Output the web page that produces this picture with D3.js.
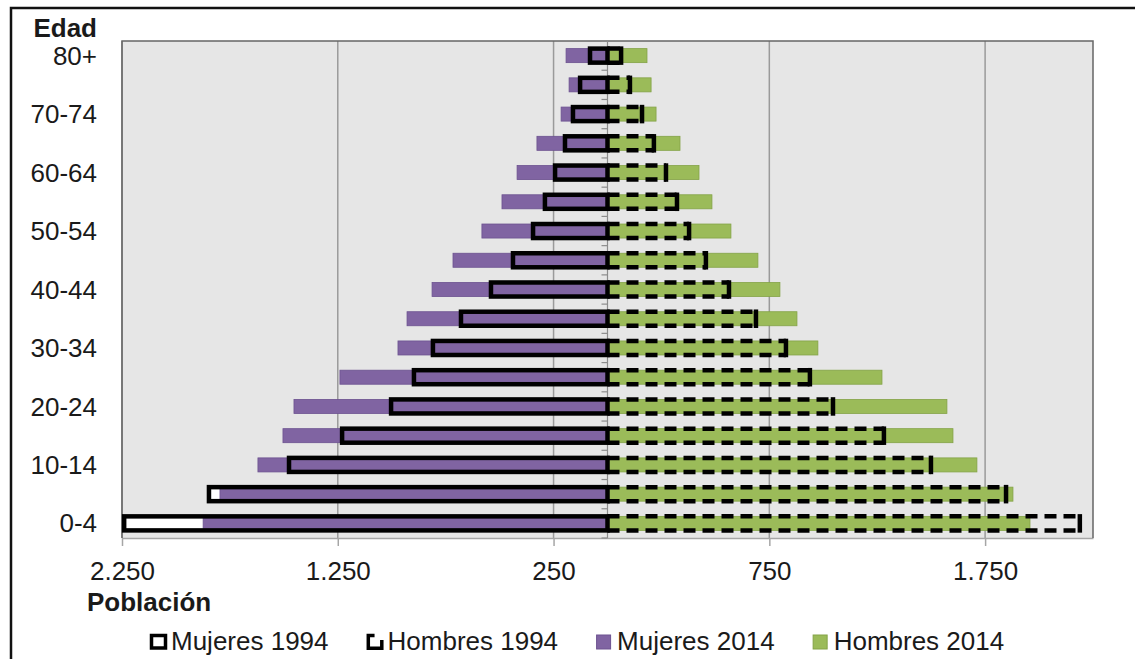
<!DOCTYPE html>
<meta charset="utf-8">

<style>
  body {
    margin: 0px;
    background: #fff;
  }

  text {
    font-family: "Liberation Sans", Arial, sans-serif;
    font-size: 26px;
    fill: #1a1a1a;
  }

  .bold {
    font-weight: bold;
  }
</style>

<script src="https://d3js.org/d3.v7.min.js"></script>

<body>
  <svg id="chart" width="1135" height="659"></svg>
</body>

<script>
// age groups, bottom to top
const ages = ['0-4', '5-9', '10-14', '15-19', '20-24', '25-29', '30-34', '35-39', '40-44',
  '45-49', '50-54', '55-59', '60-64', '65-69', '70-74', '75-79', '80+'];

const mujeres1994 = [2240, 1847, 1476, 1230, 1003, 897, 809, 679, 540, 438, 345, 290, 243, 197, 160, 127, 81];
const hombres1994 = [2189, 1847, 1499, 1281, 1045, 938, 827, 688, 563, 456, 378, 322, 271, 215, 160, 104, 63];
const mujeres2014 = [1874, 1796, 1620, 1504, 1453, 1240, 971, 929, 813, 716, 582, 489, 419, 327, 215, 178, 192];
const hombres2014 = [1958, 1879, 1712, 1601, 1573, 1272, 975, 878, 799, 697, 572, 484, 424, 336, 225, 202, 183];

const xTicks = [-2250, -1250, -250, 750, 1750];
const legendItems = ['Mujeres 1994', 'Hombres 1994', 'Mujeres 2014', 'Hombres 2014'];

const purple = '#8064a2';
const green = '#9bbb59';

const plot = {left: 122, right: 1093, top: 41, bottom: 538};

const rows = ages.map(function(a, i) {
  return {age: a, m94: mujeres1994[i], h94: hombres1994[i], m14: mujeres2014[i], h14: hombres2014[i], i: i};
});

const svg = d3.select('#chart');

const x = d3.scaleLinear()
    .domain([-2250, 2250])
    .range([plot.left, plot.right]);

const y = d3.scaleBand()
    .domain(ages.slice().reverse())
    .range([plot.top, plot.bottom])
    .paddingInner(0.52)
    .paddingOuter(0.26);

const es = d3.formatLocale({decimal: ',', thousands: '.', grouping: [3], currency: ['', '€']});
const fmt = es.format(',');

// outer frame
svg.append('path')
    .attr('d', 'M11,659V8H1135')
    .attr('fill', 'none')
    .attr('stroke', '#111')
    .attr('stroke-width', 2.5);

// plot background
svg.append('rect')
    .attr('x', plot.left)
    .attr('y', plot.top)
    .attr('width', plot.right - plot.left)
    .attr('height', plot.bottom - plot.top)
    .attr('fill', '#e6e6e6');

// gridlines
svg.append('g')
  .selectAll('line')
    .data(xTicks)
  .enter().append('line')
    .attr('x1', function(d) { return x(d); })
    .attr('x2', function(d) { return x(d); })
    .attr('y1', plot.top)
    .attr('y2', plot.bottom)
    .attr('stroke', '#9a9a9a')
    .attr('stroke-width', 1.5);

// bottom axis
const xAxis = svg.append('g')
    .attr('transform', `translate(0,${plot.bottom})`)
    .call(d3.axisBottom(x)
      .tickValues(xTicks)
      .tickFormat(function(d) { return fmt(Math.abs(d)); })
      .tickSize(8)
      .tickSizeOuter(0)
      .tickPadding(16));

xAxis.select('.domain').attr('stroke', '#a6a6a6').attr('stroke-width', 1.5);
xAxis.selectAll('.tick line').attr('stroke', '#a6a6a6').attr('stroke-width', 1.5);
xAxis.selectAll('.tick text')
    .attr('fill', '#1a1a1a')
    .style('font-size', '26px');
xAxis.attr('font-size', null).attr('font-family', null);

// plot border (top, left, right)
svg.append('path')
    .attr('d', `M${plot.left},${plot.bottom}V${plot.top}H${plot.right}V${plot.bottom}`)
    .attr('fill', 'none')
    .attr('stroke', '#666')
    .attr('stroke-width', 1.5);

const x0 = x(0);

// white fill under the 1994 women bars
svg.append('g')
  .selectAll('rect')
    .data(rows)
  .enter().append('rect')
    .attr('x', function(d) { return x(-d.m94); })
    .attr('y', function(d) { return y(d.age); })
    .attr('width', function(d) { return x0 - x(-d.m94); })
    .attr('height', y.bandwidth())
    .attr('fill', '#fff');

// 2014 bars
svg.append('g')
  .selectAll('rect')
    .data(rows)
  .enter().append('rect')
    .attr('x', function(d) { return x(-d.m14); })
    .attr('y', function(d) { return y(d.age); })
    .attr('width', function(d) { return x0 - x(-d.m14); })
    .attr('height', y.bandwidth())
    .attr('fill', purple)
    .attr('stroke', '#6c5290')
    .attr('stroke-width', 0.8);

svg.append('g')
  .selectAll('rect')
    .data(rows)
  .enter().append('rect')
    .attr('x', x0)
    .attr('y', function(d) { return y(d.age); })
    .attr('width', function(d) { return x(d.h14) - x0; })
    .attr('height', y.bandwidth())
    .attr('fill', green)
    .attr('stroke', '#84a347')
    .attr('stroke-width', 0.8);

// category axis at zero
svg.append('line')
    .attr('x1', x0)
    .attr('x2', x0)
    .attr('y1', plot.top)
    .attr('y2', plot.bottom)
    .attr('stroke', '#8c8c8c')
    .attr('stroke-width', 1.2);

svg.append('g')
  .selectAll('line')
    .data(d3.range(ages.length + 1))
  .enter().append('line')
    .attr('x1', x0 - 6)
    .attr('x2', x0)
    .attr('y1', function(i) { return plot.top + i * y.step(); })
    .attr('y2', function(i) { return plot.top + i * y.step(); })
    .attr('stroke', '#8c8c8c')
    .attr('stroke-width', 1.2);

// 1994 women: solid outline
svg.append('g')
  .selectAll('rect')
    .data(rows)
  .enter().append('rect')
    .attr('x', function(d) { return x(-d.m94); })
    .attr('y', function(d) { return y(d.age); })
    .attr('width', function(d) { return x0 - x(-d.m94); })
    .attr('height', y.bandwidth())
    .attr('fill', 'none')
    .attr('stroke', '#000')
    .attr('stroke-width', 4.5);

// 1994 men: dashed outline with a solid end
const men94 = svg.append('g');

men94.selectAll('path')
    .data(rows)
  .enter().append('path')
    .attr('d', function(d) {
      const top = y(d.age), bot = y(d.age) + y.bandwidth();
      return `M${x0},${top}H${x(d.h94)}M${x0},${bot}H${x(d.h94)}`;
    })
    .attr('fill', 'none')
    .attr('stroke', '#000')
    .attr('stroke-width', 4.5)
    .attr('stroke-dasharray', '12,7');

men94.selectAll('line')
    .data(rows)
  .enter().append('line')
    .attr('x1', function(d) { return x(d.h94); })
    .attr('x2', function(d) { return x(d.h94); })
    .attr('y1', function(d) { return y(d.age) - 2.25; })
    .attr('y2', function(d) { return y(d.age) + y.bandwidth() + 2.25; })
    .attr('stroke', '#000')
    .attr('stroke-width', 4.5);

// age labels, every other group
svg.append('g')
  .selectAll('text')
    .data(rows.filter(function(d) { return d.i % 2 === 0; }))
  .enter().append('text')
    .attr('x', 97)
    .attr('y', function(d) { return y(d.age) + y.bandwidth() / 2; })
    .attr('dy', '0.35em')
    .attr('text-anchor', 'end')
    .text(function(d) { return d.age; });

svg.append('text')
    .attr('class', 'bold')
    .attr('x', 97)
    .attr('y', 37)
    .attr('text-anchor', 'end')
    .text('Edad');

svg.append('text')
    .attr('class', 'bold')
    .attr('x', 87)
    .attr('y', 611)
    .text('Población');

// legend
const legend = svg.append('g').attr('transform', 'translate(150,650)');
let lx = 0;
legendItems.forEach(function(name, i) {
  const g = legend.append('g').attr('transform', `translate(${lx},0)`);
  if (i === 0) {
    g.append('rect')
        .attr('x', 1.5).attr('y', -14.5).attr('width', 14).attr('height', 12.5)
        .attr('fill', '#fff').attr('stroke', '#000').attr('stroke-width', 3.5);
  } else if (i === 1) {
    g.append('path')
        .attr('d', 'M8,-14.5H1.75V-1.75H15.25V-10')
        .attr('fill', 'none').attr('stroke', '#000').attr('stroke-width', 3.5);
  } else {
    g.append('rect')
        .attr('x', 0.5).attr('y', -15).attr('width', 14).attr('height', 14)
        .attr('fill', i === 2 ? purple : green)
        .attr('stroke', i === 2 ? '#6c5290' : '#84a347').attr('stroke-width', 1);
  }
  const t = g.append('text')
      .attr('x', 21)
      .attr('y', 0)
      .text(name);
  lx += 21 + t.node().getComputedTextLength() + 38;
});
</script>
